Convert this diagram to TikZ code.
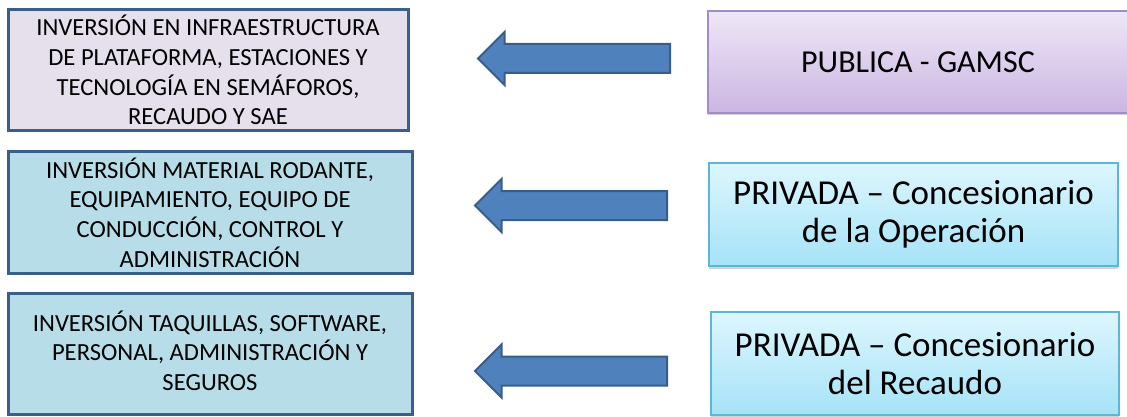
\documentclass[tikz,border=0pt]{standalone}
\usepackage{fontspec}
\setmainfont{Carlito}
\usetikzlibrary{shapes.arrows,shadows}
\definecolor{leftborder}{HTML}{3A5F8B}
\definecolor{lavfill}{HTML}{E5E0EC}
\definecolor{bluefill}{HTML}{B7DEE8}
\definecolor{lavtop}{HTML}{EEE7F7}
\definecolor{lavbot}{HTML}{CBB6E2}
\definecolor{lavborder}{HTML}{A58BC9}
\definecolor{cyantop}{HTML}{DDF6FD}
\definecolor{cyanbot}{HTML}{A5E3F8}
\definecolor{cyanborder}{HTML}{5BB7D5}
\definecolor{arrowfill}{HTML}{4F81BD}
\definecolor{arrowborder}{HTML}{385D8A}
\tikzset{
  leftbox/.style={draw=leftborder, line width=3pt, rectangle, align=center,
    minimum width=400pt, minimum height=121pt, inner sep=0pt,
    font=\fontsize{24.6}{29.7}\selectfont},
  rightbox/.style={draw=#1border, line width=1.2pt, rectangle, align=center,
    top color=#1top, bottom color=#1bot, inner sep=0pt,
    drop shadow={shadow xshift=0pt, shadow yshift=-2.5pt, opacity=0.35},
    font=\fontsize{35}{38}\selectfont},
  blockarrow/.style={single arrow, shape border rotate=180, draw=arrowborder,
    fill=arrowfill, line width=2pt, minimum height=192pt, inner xsep=0pt,
    inner ysep=13.5pt, single arrow head extend=12pt, anchor=tail, outer sep=0pt}
}
\begin{document}
\begin{tikzpicture}[x=1pt,y=-1pt]
\useasboundingbox (0,0) rectangle (1127,417);
\node[leftbox, fill=lavfill] (l1) at (208,70)
  {INVERSIÓN EN INFRAESTRUCTURA\\DE PLATAFORMA, ESTACIONES Y\\TECNOLOGÍA EN SEMÁFOROS,\\RECAUDO Y SAE};
\node[leftbox, fill=bluefill, minimum width=404pt] (l2) at (210,212.5)
  {INVERSIÓN MATERIAL RODANTE,\\EQUIPAMIENTO, EQUIPO DE\\CONDUCCIÓN, CONTROL Y\\ADMINISTRACIÓN};
\node[leftbox, fill=bluefill, minimum width=404pt, text depth=6pt] (l3) at (210,353.5)
  {INVERSIÓN TAQUILLAS, SOFTWARE,\\PERSONAL, ADMINISTRACIÓN Y\\SEGUROS};
\node[rightbox=lav, minimum width=420pt, minimum height=102pt,
  font=\fontsize{32}{38}\selectfont] (r1) at (918,62)
  {PUBLICA - GAMSC};
\node[rightbox=cyan, minimum width=409pt, minimum height=103pt] (r2) at (913.5,214.5)
  {PRIVADA – Concesionario\\de la Operación};
\node[rightbox=cyan, minimum width=408pt, minimum height=103pt] (r3) at (915,363.5)
  {PRIVADA – Concesionario\\del Recaudo};
\node[blockarrow] (a1) at (670,58.5) {};
\node[blockarrow] (a2) at (667,205.5) {};
\node[blockarrow] (a3) at (667,371) {};
\end{tikzpicture}
\end{document}
